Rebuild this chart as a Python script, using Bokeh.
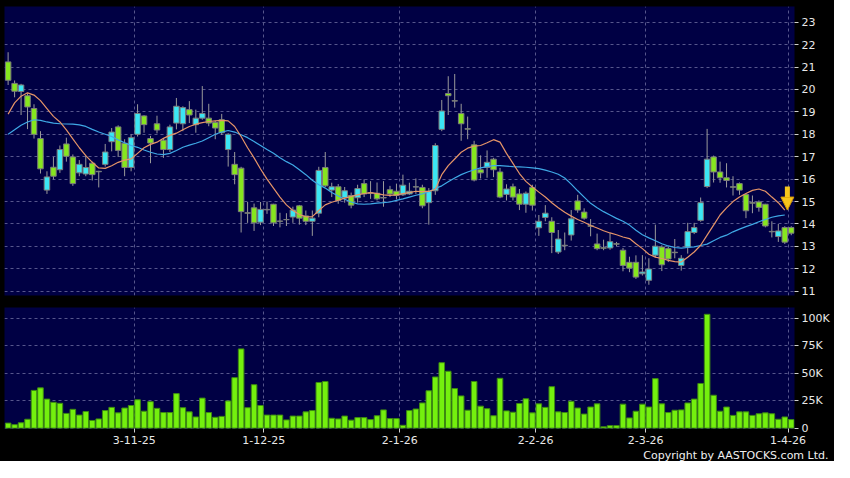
from bokeh.plotting import figure
from bokeh.layouts import column
from bokeh.models import (FixedTicker, ColumnDataSource, Arrow, NormalHead, Title, Range1d)
from bokeh.embed import file_html
from bokeh.resources import INLINE

# ---------------- data ----------------
opens = [21.23, 20.27, 19.91, 19.72, 19.15, 17.81, 15.51, 16.53, 16.42, 17.57,
         16.99, 16.28, 16.23, 16.71, 16.33, 16.66, 17.67, 18.33, 17.60, 16.52,
         18.00, 18.82, 17.81, 18.47, 17.74, 17.32, 18.50, 18.47, 19.10, 18.43,
         18.72, 18.72, 18.53, 18.65, 17.32, 16.66, 16.49, 14.50, 14.72, 14.08,
         14.63, 14.88, 14.13, 14.20, 14.31, 14.81, 14.36, 14.12, 14.48, 16.52,
         15.51, 15.66, 15.17, 15.27, 15.17, 15.80, 15.39, 15.37, 15.18, 15.53,
         15.46, 15.30, 15.34, 15.65, 15.63, 14.95, 15.48, 18.22, 19.82, 19.50,
         18.93, 18.25, 17.53, 16.42, 16.52, 16.89, 16.32, 15.32, 15.66, 15.34,
         14.88, 15.63, 13.83, 14.29, 14.12, 12.75, 13.03, 13.51, 15.03, 14.53,
         13.92, 13.11, 12.94, 12.93, 13.12, 12.83, 12.29, 12.29, 11.78, 11.49,
         12.61, 12.97, 12.90, 12.74, 12.15, 12.97, 13.62, 14.16, 15.67, 16.99,
         16.32, 16.06, 15.66, 15.80, 15.31, 14.95, 14.98, 14.88, 13.67, 13.44,
         13.84, 13.84]
highs = [21.66, 20.40, 20.25, 19.82, 19.34, 18.14, 16.35, 16.99, 17.50, 17.85,
         17.10, 16.85, 17.05, 16.78, 16.37, 17.57, 18.28, 18.40, 17.78, 18.00,
         19.34, 18.85, 17.93, 18.83, 17.80, 18.43, 19.62, 19.25, 19.48, 19.10,
         20.15, 19.36, 18.60, 18.91, 18.05, 17.21, 16.55, 14.98, 14.91, 14.98,
         15.00, 14.90, 14.50, 14.48, 14.77, 14.85, 14.60, 14.60, 16.55, 17.21,
         15.84, 15.78, 15.65, 15.40, 15.75, 15.99, 15.91, 15.85, 15.91, 15.70,
         15.80, 16.20, 15.84, 16.03, 15.75, 15.60, 17.60, 19.53, 20.59, 20.69,
         19.36, 18.79, 17.71, 17.06, 17.28, 16.95, 16.50, 15.77, 15.80, 15.56,
         15.45, 15.75, 14.40, 14.84, 14.30, 13.73, 13.62, 14.62, 15.30, 14.70,
         14.22, 13.57, 13.30, 13.59, 13.20, 12.93, 12.54, 12.60, 12.61, 12.47,
         13.97, 13.05, 13.00, 13.33, 12.61, 14.05, 14.05, 15.18, 18.24, 17.05,
         16.78, 16.71, 16.13, 15.85, 15.35, 15.27, 15.05, 14.90, 14.12, 14.00,
         13.90, 13.90]
lows = [20.20, 19.65, 18.86, 18.23, 17.81, 16.25, 15.34, 15.99, 16.28, 16.78,
        15.70, 16.13, 16.13, 15.94, 15.63, 16.56, 17.24, 16.99, 16.13, 16.35,
        17.90, 18.07, 16.71, 18.04, 16.95, 17.21, 18.22, 18.14, 18.50, 18.07,
        18.65, 18.36, 17.78, 17.97, 16.56, 15.77, 13.62, 14.05, 13.69, 13.95,
        14.45, 13.91, 13.85, 13.91, 14.05, 13.97, 13.95, 13.47, 14.30, 15.65,
        15.20, 14.90, 14.95, 14.70, 14.95, 15.20, 15.12, 15.05, 14.77, 15.20,
        15.10, 15.25, 15.30, 15.34, 14.70, 13.97, 15.30, 18.14, 18.86, 19.19,
        17.71, 17.78, 15.90, 16.03, 16.06, 16.09, 15.15, 15.05, 15.05, 14.62,
        14.50, 14.60, 13.47, 14.12, 12.70, 12.66, 12.83, 13.26, 14.50, 14.19,
        13.45, 12.83, 12.83, 12.85, 13.00, 11.89, 11.85, 11.55, 11.70, 11.29,
        12.50, 11.90, 12.30, 12.47, 11.92, 12.68, 13.55, 14.10, 15.60, 15.85,
        15.84, 15.63, 15.27, 15.30, 14.26, 14.48, 14.55, 13.85, 13.40, 13.20,
        13.11, 13.50]
closes = [20.41, 19.92, 20.20, 19.22, 18.00, 16.46, 16.10, 16.13, 17.32, 17.02,
          15.80, 16.66, 16.52, 16.20, 16.35, 17.21, 18.10, 17.28, 16.52, 17.85,
          18.93, 18.43, 17.61, 18.19, 17.32, 18.33, 19.25, 19.19, 18.86, 18.72,
          18.93, 18.50, 18.28, 18.07, 18.00, 16.20, 14.55, 14.48, 14.05, 14.65,
          14.65, 14.05, 14.12, 14.19, 14.62, 14.26, 14.12, 14.26, 16.39, 15.70,
          15.66, 15.05, 15.48, 14.84, 15.58, 15.34, 15.37, 15.12, 15.16, 15.34,
          15.27, 15.73, 15.46, 15.66, 14.81, 15.46, 17.50, 19.04, 19.72, 19.48,
          18.47, 18.23, 15.96, 16.28, 16.75, 16.42, 15.20, 15.56, 15.20, 14.88,
          15.37, 14.84, 14.12, 14.48, 13.62, 13.33, 13.05, 14.23, 14.62, 14.26,
          13.90, 12.90, 12.92, 13.21, 13.10, 12.15, 12.03, 11.63, 11.86, 11.99,
          13.01, 12.18, 12.44, 12.72, 12.47, 13.66, 13.84, 14.95, 16.89, 16.32,
          16.06, 15.94, 15.64, 15.51, 14.59, 14.93, 14.74, 13.91, 13.65, 13.69,
          13.19, 13.59]
volumes_k = [4.6, 3.2, 4.9, 8.1, 34.3, 36.6, 26.4, 23.5, 22.6, 13.4,
             17.1, 11.9, 15.1, 7.0, 8.4, 16.0, 18.9, 13.9, 18.3, 20.6,
             25.8, 15.4, 24.1, 18.0, 14.2, 14.2, 31.4, 18.6, 14.8, 10.2,
             27.3, 14.2, 9.9, 10.7, 24.7, 45.9, 72.0, 18.6, 39.5, 20.6,
             11.9, 11.9, 11.9, 7.5, 11.0, 11.0, 14.8, 16.0, 41.5, 42.4,
             9.0, 8.4, 11.0, 7.3, 9.6, 9.6, 7.8, 11.3, 16.6, 8.7,
             8.7, 2.6, 16.0, 17.4, 22.9, 34.0, 46.5, 59.5, 51.7, 36.0,
             29.3, 16.3, 42.4, 20.0, 17.7, 11.3, 45.3, 15.7, 14.5, 22.4,
             26.7, 13.9, 22.1, 18.9, 37.7, 14.8, 14.2, 24.4, 18.3, 12.8,
             19.2, 22.1, 1.2, 2.3, 2.3, 21.8, 9.3, 15.4, 21.8, 19.2,
             45.0, 22.1, 14.2, 16.3, 16.6, 22.9, 26.4, 40.6, 103.4, 29.9,
             15.4, 19.2, 11.6, 14.8, 14.8, 11.6, 13.1, 13.9, 13.1, 8.1,
             10.2, 7.8]
ma_fast = [18.90, 19.40, 19.70, 19.85, 19.75, 19.50, 19.15, 18.80, 18.55, 18.20,
           17.80, 17.40, 17.05, 16.75, 16.50, 16.48, 16.60, 16.75, 16.85, 16.90,
           17.15, 17.40, 17.55, 17.65, 17.82, 17.95, 18.05, 18.20, 18.35, 18.45,
           18.52, 18.57, 18.60, 18.62, 18.60, 18.35, 17.90, 17.40, 16.95, 16.45,
           16.00, 15.60, 15.20, 14.85, 14.60, 14.42, 14.32, 14.33, 14.60, 14.85,
           14.97, 15.06, 15.15, 15.22, 15.30, 15.36, 15.40, 15.35, 15.30, 15.28,
           15.30, 15.35, 15.40, 15.46, 15.44, 15.45, 15.55, 16.20, 16.60, 16.90,
           17.20, 17.38, 17.47, 17.50, 17.62, 17.76, 17.65, 17.15, 16.70, 16.25,
           15.90, 15.65, 15.42, 15.20, 14.95, 14.72, 14.52, 14.35, 14.20, 14.08,
           13.93, 13.82, 13.70, 13.60, 13.52, 13.42, 13.35, 13.12, 12.90, 12.65,
           12.52, 12.46, 12.38, 12.32, 12.30, 12.52, 12.75, 13.05, 13.50, 13.95,
           14.40, 14.72, 15.00, 15.20, 15.36, 15.50, 15.56, 15.46, 15.20, 14.95,
           14.62]
ma_slow = [18.00, 18.20, 18.40, 18.55, 18.65, 18.62, 18.55, 18.50, 18.47, 18.46,
           18.45, 18.42, 18.35, 18.22, 18.10, 18.00, 17.90, 17.75, 17.62, 17.50,
           17.42, 17.30, 17.20, 17.12, 17.09, 17.15, 17.28, 17.42, 17.52, 17.60,
           17.70, 17.85, 18.00, 18.10, 18.17, 18.10, 17.98, 17.85, 17.68, 17.50,
           17.32, 17.15, 16.95, 16.78, 16.63, 16.42, 16.20, 15.95, 15.75, 15.60,
           15.40, 15.25, 15.10, 14.98, 14.90, 14.88, 14.90, 14.93, 14.95, 14.98,
           15.05, 15.12, 15.20, 15.28, 15.34, 15.45, 15.58, 15.70, 15.88, 16.05,
           16.20, 16.32, 16.42, 16.50, 16.56, 16.60, 16.60, 16.58, 16.56, 16.55,
           16.53, 16.50, 16.47, 16.40, 16.32, 16.22, 16.05, 15.78, 15.48, 15.20,
           14.92, 14.72, 14.55, 14.40, 14.25, 14.12, 13.95, 13.72, 13.52, 13.38,
           13.25, 13.12, 13.02, 12.95, 12.92, 12.95, 12.98, 13.04, 13.10, 13.25,
           13.40, 13.50, 13.65, 13.77, 13.88, 13.98, 14.10, 14.20, 14.30, 14.36,
           14.40]
month_start_index = [20, 40, 61, 82, 99, 121]
month_labels = ["3-11-25", "1-12-25", "2-1-26", "2-2-26", "2-3-26", "1-4-26"]
price_ticks = [11, 12, 13, 14, 15, 16, 17, 18, 19, 20, 21, 22, 23]
vol_ticks = [0, 25, 50, 75, 100]
vol_tick_labels = ["0", "25K", "50K", "75K", "100K"]

# ---------------- styling ----------------
BG = "#000044"
GRID = "#56568c"
UP = "#3be6f4"
DOWN = "#86e61e"
VOL = "#74f00e"
FONT = "DejaVu Sans"

n = len(closes)
idx = list(range(n))
src = ColumnDataSource(dict(
    x=idx,
    high=highs,
    low=lows,
    top=[max(o, c) for o, c in zip(opens, closes)],
    bottom=[min(o, c) for o, c in zip(opens, closes)],
    color=[UP if c > o else DOWN for o, c in zip(opens, closes)],
    vol=volumes_k,
))
grid_pos = [i - 0.5 for i in month_start_index]

x_range = Range1d(-0.56, n - 0.5)

p = figure(frame_width=790, frame_height=289, x_range=x_range, y_range=Range1d(10.81, 23.70),
           y_axis_location="right", x_axis_location=None, toolbar_location=None,
           output_backend="svg", background_fill_color=BG, border_fill_color="black",
           outline_line_color=None, min_border_left=4, min_border_top=6,
           min_border_bottom=6, min_border_right=40)

for g in (p.xgrid[0], p.ygrid[0]):
    g.grid_line_color = GRID
    g.grid_line_dash = "3 3"
    g.grid_line_width = 1
p.xgrid[0].ticker = FixedTicker(ticks=grid_pos)

ay = p.yaxis[0]
ay.ticker = FixedTicker(ticks=price_ticks)
ay.axis_line_color = None
ay.major_tick_in = 0
ay.major_tick_out = 4
ay.major_tick_line_color = "#cfcfcf"
ay.minor_tick_line_color = None
ay.major_label_text_color = "#e8e8e8"
ay.major_label_text_font = FONT
ay.major_label_text_font_size = "11px"
ay.major_label_standoff = 3

p.segment(x0="x", y0="high", x1="x", y1="low", source=src, line_color="#9a9a9a", line_width=1)
p.vbar(x="x", top="top", bottom="bottom", width=0.85, source=src,
       fill_color="color", line_color="#7c7c7c", line_width=1)
ma_x = list(range(len(ma_fast)))
p.line(ma_x, ma_slow, line_color="#3fa9e6", line_width=1.2)
p.line(ma_x, ma_fast, line_color="#e59468", line_width=1.2)

arrow_x = ma_x[-1] + 0.4
p.add_layout(Arrow(end=NormalHead(size=13, fill_color="#f6c51c", line_color="#d89a00", line_width=1),
                   x_start=arrow_x, y_start=ma_fast[-1] + 1.05,
                   x_end=arrow_x, y_end=ma_fast[-1],
                   line_color="#f6c51c", line_width=5))

v = figure(frame_width=790, frame_height=121, x_range=x_range, y_range=Range1d(-0.3, 109.6),
           y_axis_location="right", toolbar_location=None, output_backend="svg",
           background_fill_color=BG, border_fill_color="black", outline_line_color=None,
           min_border_left=4, min_border_top=6, min_border_bottom=0, min_border_right=40)
for g in (v.xgrid[0], v.ygrid[0]):
    g.grid_line_color = GRID
    g.grid_line_dash = "3 3"
    g.grid_line_width = 1

v.vbar(x="x", top="vol", bottom=0, width=0.86, source=src,
       fill_color=VOL, line_color="#3d8a12", line_width=1)

vy = v.yaxis[0]
vy.ticker = FixedTicker(ticks=vol_ticks)
vy.major_label_overrides = {t: s for t, s in zip(vol_ticks, vol_tick_labels)}
vx = v.xaxis[0]
vx.ticker = FixedTicker(ticks=grid_pos)
vx.major_label_overrides = {t: s for t, s in zip(grid_pos, month_labels)}
for ax in (vx, vy):
    ax.axis_line_color = None
    ax.major_tick_in = 0
    ax.major_tick_out = 4
    ax.major_tick_line_color = "#cfcfcf"
    ax.minor_tick_line_color = None
    ax.major_label_text_color = "#e8e8e8"
    ax.major_label_text_font = FONT
    ax.major_label_text_font_size = "11px"
    ax.major_label_standoff = 3

v.add_layout(Title(text="Copyright by AASTOCKS.com Ltd.", align="right", text_color="#f0f0f0",
                   text_font=FONT, text_font_size="11px", text_font_style="normal",
                   offset=-34, standoff=0), "below")

layout = column(p, v, spacing=0, styles={"background-color": "black"})
open("out.html", "w").write(file_html(layout, INLINE))
